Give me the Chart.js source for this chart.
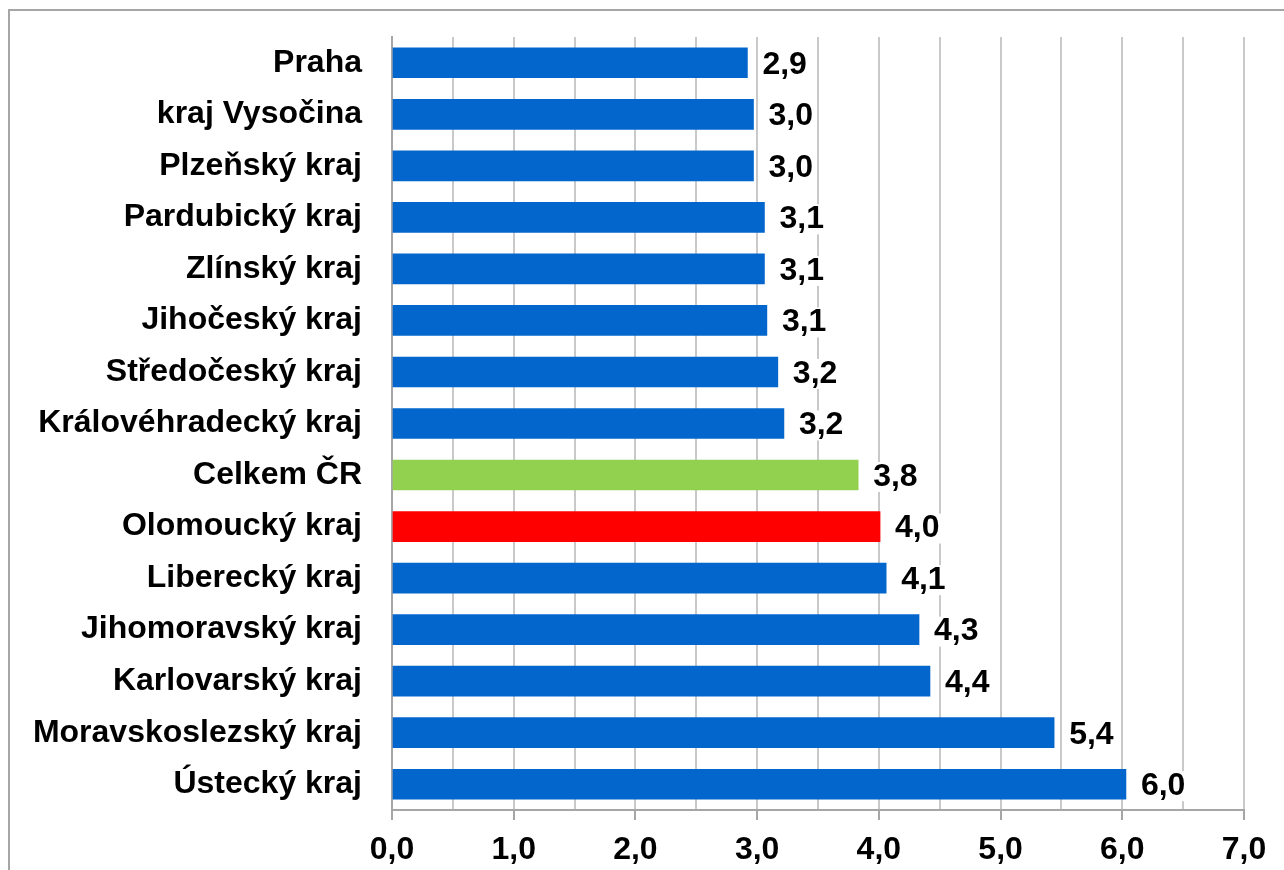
<!DOCTYPE html>
<html lang="cs">
<head>
<meta charset="utf-8">
<title>Kraje</title>
<script src="https://cdn.jsdelivr.net/npm/chart.js@4.4.1/dist/chart.umd.min.js"></script>
<style>
  html, body { margin: 0; padding: 0; background: #fff; }
  #wrap { position: relative; width: 1284px; height: 870px; }
</style>
</head>
<body>
<div id="wrap"><canvas id="chart"></canvas></div>
<script>
"use strict";
// data
const kraje = [
    "Praha", "kraj Vysočina", "Plzeňský kraj", "Pardubický kraj", "Zlínský kraj",
    "Jihočeský kraj", "Středočeský kraj", "Královéhradecký kraj", "Celkem ČR",
    "Olomoucký kraj", "Liberecký kraj", "Jihomoravský kraj", "Karlovarský kraj",
    "Moravskoslezský kraj", "Ústecký kraj"
];
const hodnoty = [2.92, 2.97, 2.97, 3.06, 3.06, 3.08, 3.17, 3.22, 3.83, 4.01, 4.06, 4.33, 4.42, 5.44, 6.03];
const popisky = ["2,9", "3,0", "3,0", "3,1", "3,1", "3,1", "3,2", "3,2", "3,8", "4,0", "4,1", "4,3", "4,4", "5,4", "6,0"];
const osaMax = 7;
const osaKrok = 0.5;

const MODRA = "#0366CC";
const ZELENA = "#92D050";
const CERVENA = "#FF0000";
const FONT = "'Liberation Sans', Arial, sans-serif";
const VELIKOST = 32;

const barvy = kraje.map(k => k === "Celkem ČR" ? ZELENA : k === "Olomoucký kraj" ? CERVENA : MODRA);

// outer frame of the picture
const ramecek = {
    id: "ramecek",
    beforeDraw(chart) {
        const ctx = chart.ctx;
        ctx.save();
        ctx.strokeStyle = "#a6a6a6";
        ctx.lineWidth = 2;
        ctx.beginPath();
        ctx.moveTo(9, chart.height + 5);
        ctx.lineTo(9, 10);
        ctx.lineTo(chart.width + 5, 10);
        ctx.stroke();
        ctx.restore();
    }
};

// value labels with white background
const hodnotyPopisky = {
    id: "hodnotyPopisky",
    afterDatasetsDraw(chart) {
        const ctx = chart.ctx;
        const meta = chart.getDatasetMeta(0);
        ctx.save();
        ctx.font = "bold " + VELIKOST + "px " + FONT;
        ctx.textBaseline = "middle";
        ctx.textAlign = "left";
        meta.data.forEach((bar, i) => {
            const txt = popisky[i];
            const x = bar.x + 15;
            const y = bar.y + 2;
            const w = ctx.measureText(txt).width;
            ctx.fillStyle = "#fff";
            ctx.fillRect(x - 3, y - 15, w + 6, 30);
            ctx.fillStyle = "#000";
            ctx.fillText(txt, x, y);
        });
        ctx.restore();
    }
};

const canvas = document.getElementById("chart");
new Chart(canvas.getContext("2d"), {
    type: "bar",
    data: {
        labels: kraje,
        datasets: [{
            data: hodnoty,
            backgroundColor: barvy,
            borderWidth: 0,
            barThickness: 30
        }]
    },
    options: {
        indexAxis: "y",
        responsive: true,
        maintainAspectRatio: false,
        animation: false,
        layout: { padding: { left: 0, right: 40, top: 37, bottom: 0 } },
        plugins: {
            legend: { display: false },
            tooltip: { enabled: false }
        },
        scales: {
            x: {
                min: 0,
                max: osaMax,
                afterFit: (scale) => { scale.height = 60; },
                border: { display: true, color: "#a6a6a6", width: 2 },
                grid: {
                    color: "#c9c9c9",
                    lineWidth: 2,
                    drawTicks: true,
                    tickLength: 10,
                    tickColor: (c) => (c.tick && c.tick.value % 1 === 0 ? "#a6a6a6" : "rgba(0,0,0,0)")
                },
                ticks: {
                    stepSize: osaKrok,
                    autoSkip: false,
                    maxRotation: 0,
                    padding: 11,
                    color: "#000",
                    font: { family: FONT, size: VELIKOST, weight: "bold" },
                    callback: (v) => (v % 1 === 0 ? Number(v).toFixed(1).replace(".", ",") : "")
                }
            },
            y: {
                afterFit: (scale) => {
                    scale.width = 392;
                    scale.paddingTop = 0;
                    scale.paddingBottom = 0;
                },
                border: { display: true, color: "#a6a6a6", width: 2 },
                grid: { display: false, drawTicks: false },
                ticks: {
                    padding: 30,
                    color: "#000",
                    font: { family: FONT, size: VELIKOST, weight: "bold" }
                }
            }
        }
    },
    plugins: [ramecek, hodnotyPopisky]
});
</script>
</body>
</html>
